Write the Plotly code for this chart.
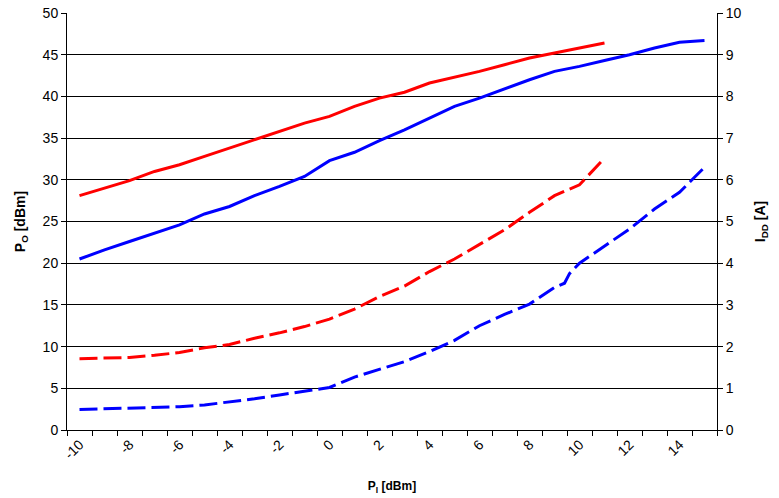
import numpy as np
import plotly.graph_objects as go

# Input power (dBm) for each series
pin_red = [-10, -9, -8, -7, -6, -5, -4, -3, -2, -1, 0, 1, 2, 3, 4, 5, 6, 7, 8, 9, 10, 11]
pin_blue = [-10, -9, -8, -7, -6, -5, -4, -3, -2, -1, 0, 1, 2, 3, 4, 5, 6, 7, 8, 9, 10, 11, 12, 13, 14, 15]

# Output power Po [dBm]
po_red = [28.1, 29.0, 29.9, 31.0, 31.8, 32.8, 33.8, 34.8, 35.8, 36.8, 37.6, 38.8, 39.8, 40.5,
          41.6, 42.3, 43.0, 43.8, 44.6, 45.2, 45.8, 46.4]
po_blue = [20.5, 21.6, 22.6, 23.6, 24.6, 25.9, 26.8, 28.1, 29.2, 30.4, 32.3, 33.3, 34.7, 36.0,
           37.4, 38.8, 39.8, 40.9, 42.0, 43.0, 43.6, 44.3, 45.0, 45.8, 46.5, 46.7]

# Drain current IDD [A]
pin_red_i = [-10, -9, -8, -7, -6, -5, -4, -3, -2, -1, 0, 1, 2, 3, 4, 5, 6, 7, 8, 9, 10, 10.5, 11]
idd_red = [1.71, 1.72, 1.74, 1.79, 1.86, 1.97, 2.05, 2.2, 2.33, 2.48, 2.66, 2.9, 3.2, 3.45,
           3.8, 4.1, 4.44, 4.8, 5.22, 5.62, 5.88, 6.2, 6.52]
pin_blue_i = [-10, -9, -8, -7, -6, -5, -4, -3, -2, -1, 0, 1, 2, 3, 4, 5, 6, 7, 8, 9, 9.4, 9.6,
              10, 11, 12, 13, 14, 14.5, 15]
idd_blue = [0.49, 0.51, 0.53, 0.54, 0.56, 0.6, 0.67, 0.75, 0.84, 0.93, 1.02, 1.27, 1.45, 1.64,
            1.88, 2.15, 2.5, 2.77, 3.02, 3.42, 3.52, 3.75, 4.0, 4.42, 4.82, 5.3, 5.7, 6.0, 6.3]

x_ticks = [-10, -8, -6, -4, -2, 0, 2, 4, 6, 8, 10, 12, 14]
x_ticktext = [str(v) for v in x_ticks]

RED = "#FF0000"
BLUE = "#0000FF"
FONT = "Liberation Sans, Arial, sans-serif"

fig = go.Figure()
fig.add_trace(go.Scatter(x=pin_red, y=po_red, mode="lines",
                         line=dict(color=RED, width=3), showlegend=False))
fig.add_trace(go.Scatter(x=pin_blue, y=po_blue, mode="lines",
                         line=dict(color=BLUE, width=3), showlegend=False))
fig.add_trace(go.Scatter(x=pin_red_i, y=idd_red, mode="lines", yaxis="y2",
                         line=dict(color=RED, width=3, dash="18px,6px"), showlegend=False))
fig.add_trace(go.Scatter(x=pin_blue_i, y=idd_blue, mode="lines", yaxis="y2",
                         line=dict(color=BLUE, width=3, dash="18px,6px"), showlegend=False))

minor_vals = list(np.arange(-10.5, 15.6, 1.0))

fig.update_layout(
    width=779, height=498,
    margin=dict(l=67, r=62, t=13, b=68),
    paper_bgcolor="white", plot_bgcolor="white",
    font=dict(family=FONT, size=14, color="black"),
    xaxis=dict(
        range=[-10.5, 15.5], tickmode="array", tickvals=x_ticks, ticktext=x_ticktext,
        tickangle=-45, ticks="", ticklen=0, showgrid=False, zeroline=False,
        showline=True, linecolor="black", linewidth=1,
        minor=dict(tickmode="array", tickvals=minor_vals, ticks="outside",
                   ticklen=5, tickcolor="black", tickwidth=1, showgrid=False),
        title=dict(text="<b>P<sub>I</sub> [dBm]</b>", font=dict(size=12), standoff=20),
        automargin=False,
    ),
    yaxis=dict(
        range=[0, 50], dtick=5, tick0=0, showgrid=True, gridcolor="black", gridwidth=1,
        zeroline=False, showline=True, linecolor="black", linewidth=1,
        ticks="outside", ticklen=5, tickcolor="black",
        title=dict(text="<b>P<sub>O</sub> [dBm]</b>", font=dict(size=14), standoff=13),
        automargin=False,
    ),
    yaxis2=dict(
        range=[0, 10], dtick=1, tick0=0, overlaying="y", side="right",
        showgrid=False, zeroline=False, showline=True, linecolor="black", linewidth=1,
        ticks="outside", ticklen=5, tickcolor="black",
        title=dict(text="<b>I<sub>DD</sub> [A]</b>", font=dict(size=14), standoff=14),
        automargin=False,
    ),
)

fig.write_html("out.html", config={"displayModeBar": False},
               post_script="document.body.style.margin='0px';")
